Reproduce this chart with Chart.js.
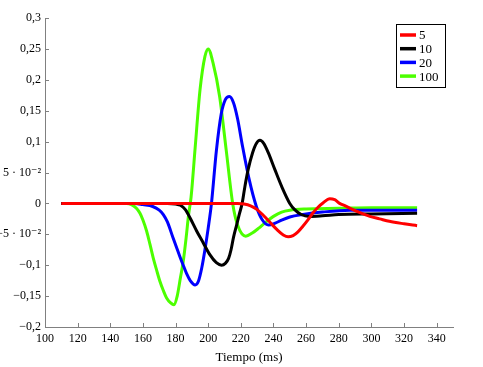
<!DOCTYPE html>
<html>
<head>
<meta charset="utf-8">
<script src="https://cdn.jsdelivr.net/npm/chart.js@4.4.1/dist/chart.umd.min.js"></script>
<style>
    body { margin: 0; background: #fff; }
    #wrap { width: 483px; height: 367px; }
</style>
</head>
<body>
<div id="wrap"><canvas id="respuestaChart" width="483" height="367"></canvas></div>
<script>
// series labels (legend)
const seriesLabels = ['5', '10', '20', '100'];
const seriesColors = ['#ff0000', '#000000', '#0000ff', '#4cff00'];

// 5
const tiempoRojo = [110, 218, 222, 226, 230, 234, 238, 242, 246, 249, 252, 255, 258, 261, 264, 267, 270.5, 274.5, 277.5, 280.5, 284, 287, 293, 299, 305, 311, 320, 328];
const rojo = [0, 0, -0.001, -0.004, -0.01, -0.02, -0.031, -0.042, -0.051, -0.054, -0.052, -0.046, -0.037, -0.027, -0.016, -0.007, 0.001, 0.0076, 0.006, 0.0, -0.004, -0.008, -0.015, -0.021, -0.025, -0.029, -0.033, -0.036];

// 10
const tiempoNegro = [110, 175, 180, 183, 186, 189, 193, 197, 201, 205, 208.2, 210.5, 212.5, 214, 215.5, 217.4, 219, 220.8, 222.5, 224.5, 227.2, 229.5, 231.7, 234, 236.8, 240.8, 245, 250, 253, 257, 262, 270, 280, 300, 328];
const negro = [0, 0, -0.001, -0.003, -0.01, -0.024, -0.045, -0.064, -0.083, -0.096, -0.1, -0.097, -0.089, -0.075, -0.055, -0.035, -0.018, 0.0, 0.0275, 0.055, 0.082, 0.097, 0.102, 0.097, 0.082, 0.055, 0.0275, 0.0, -0.01, -0.018, -0.021, -0.02, -0.018, -0.017, -0.016];

// 20
const tiempoAzul = [110, 155, 160, 166, 170, 172.5, 175, 178.5, 182.5, 185, 187, 189, 192, 194, 196, 198, 200, 202, 205, 208, 210.5, 213, 215.5, 218, 221, 225, 229.5, 233, 237, 241, 245, 250, 258, 270, 287, 300, 328];
const azul = [0, 0, -0.002, -0.005, -0.011, -0.018, -0.03, -0.056, -0.085, -0.102, -0.115, -0.125, -0.132, -0.126, -0.105, -0.075, -0.04, 0.0, 0.085, 0.145, 0.168, 0.173, 0.163, 0.137, 0.093, 0.04, -0.005, -0.026, -0.035, -0.032, -0.027, -0.022, -0.018, -0.014, -0.011, -0.011, -0.011];

// 100
const tiempoVerde = [110, 150, 153, 156, 158.2, 160, 162.3, 164.3, 166.3, 168.4, 170.4, 172.5, 174.5, 177, 179, 181, 183, 184.7, 186.5, 188, 189.5, 192, 195, 198, 200, 203, 207, 211, 215, 218, 223, 227, 231, 235, 240, 245, 250, 260, 280, 300, 328];
const verde = [0, 0, -0.002, -0.008, -0.016, -0.027, -0.045, -0.066, -0.088, -0.108, -0.126, -0.141, -0.153, -0.161, -0.164, -0.15, -0.12, -0.094, -0.055, -0.018, 0.01, 0.09, 0.184, 0.238, 0.25, 0.227, 0.173, 0.087, 0.0, -0.035, -0.053, -0.048, -0.04, -0.031, -0.021, -0.014, -0.011, -0.009, -0.008, -0.007, -0.007];

const tiempos = [tiempoRojo, tiempoNegro, tiempoAzul, tiempoVerde];
const valores = [rojo, negro, azul, verde];

const serif = "'Liberation Serif', 'DejaVu Serif', serif";
const axisGray = '#808080';

function formatY(v) {
    const r = Math.round(v * 100) / 100;
    if (r === 0.05) return '5 · 10⁻²';
    if (r === -0.05) return '−5 · 10⁻²';
    return String(r).replace('.', ',').replace('-', '−');
}

// small tick marks drawn inside the plot, like pgfplots
const innerTicks = {
    id: 'innerTicks',
    afterDraw(chart) {
        const ctx = chart.ctx;
        const xs = chart.scales.x;
        const ys = chart.scales.y;
        const area = chart.chartArea;
        ctx.save();
        ctx.strokeStyle = axisGray;
        ctx.lineWidth = 1;
        ctx.beginPath();
        xs.ticks.forEach(t => {
            const px = Math.round(xs.getPixelForValue(t.value)) + 0.5;
            ctx.moveTo(px, area.bottom);
            ctx.lineTo(px, area.bottom - 4);
        });
        ys.ticks.forEach(t => {
            const py = Math.round(ys.getPixelForValue(t.value)) + 0.5;
            ctx.moveTo(area.left, py);
            ctx.lineTo(area.left + 4, py);
        });
        ctx.stroke();
        ctx.restore();
    }
};

// legend box in the upper right corner
const boxLegend = {
    id: 'boxLegend',
    afterDraw(chart) {
        const ctx = chart.ctx;
        const x0 = 396, y0 = 24, w = 49, h = 63;
        ctx.save();
        ctx.fillStyle = '#fff';
        ctx.fillRect(x0, y0, w, h);
        ctx.strokeStyle = '#000';
        ctx.lineWidth = 1;
        ctx.strokeRect(x0 + 0.5, y0 + 0.5, w, h);
        ctx.font = '13px ' + serif;
        ctx.textBaseline = 'middle';
        chart.data.datasets.forEach((ds, i) => {
            const yy = y0 + 11 + i * 13.7;
            ctx.strokeStyle = ds.borderColor;
            ctx.lineWidth = 3.5;
            ctx.beginPath();
            ctx.moveTo(400, yy);
            ctx.lineTo(416, yy);
            ctx.stroke();
            ctx.fillStyle = '#000';
            ctx.fillText(ds.label, 419, yy + 1);
        });
        ctx.restore();
    }
};

const ctx = document.getElementById('respuestaChart').getContext('2d');
const respuestaChart = new Chart(ctx, {
    type: 'line',
    data: {
        datasets: seriesLabels.map((label, i) => ({
            label: label,
            data: tiempos[i].map((t, j) => ({ x: t, y: valores[i][j] })),
            borderColor: seriesColors[i],
            backgroundColor: seriesColors[i],
            borderWidth: 3,
            pointRadius: 0,
            cubicInterpolationMode: 'monotone',
            fill: false
        }))
    },
    options: {
        responsive: false,
        animation: false,
        layout: { padding: { top: 18, right: 30, left: 0, bottom: 0 } },
        plugins: {
            legend: { display: false },
            tooltip: { enabled: false }
        },
        scales: {
            x: {
                type: 'linear',
                min: 100,
                max: 350,
                grid: { display: false, drawTicks: false },
                border: { display: true, color: axisGray, width: 1 },
                ticks: {
                    stepSize: 20,
                    includeBounds: false,
                    maxRotation: 0,
                    autoSkip: false,
                    padding: 5,
                    color: '#000',
                    font: { family: serif, size: 12 }
                },
                title: {
                    display: true,
                    text: 'Tiempo (ms)',
                    color: '#000',
                    font: { family: serif, size: 13 },
                    padding: { top: 0, bottom: 2 }
                },
                afterFit: (scale) => { scale.height = 40; }
            },
            y: {
                min: -0.2,
                max: 0.3,
                grid: { display: false, drawTicks: false },
                border: { display: true, color: axisGray, width: 1 },
                ticks: {
                    stepSize: 0.05,
                    autoSkip: false,
                    padding: 4,
                    color: '#000',
                    font: { family: serif, size: 12 },
                    callback: (v) => formatY(v)
                },
                afterFit: (scale) => { scale.width = 45; }
            }
        }
    },
    plugins: [innerTicks, boxLegend]
});
</script>
</body>
</html>
